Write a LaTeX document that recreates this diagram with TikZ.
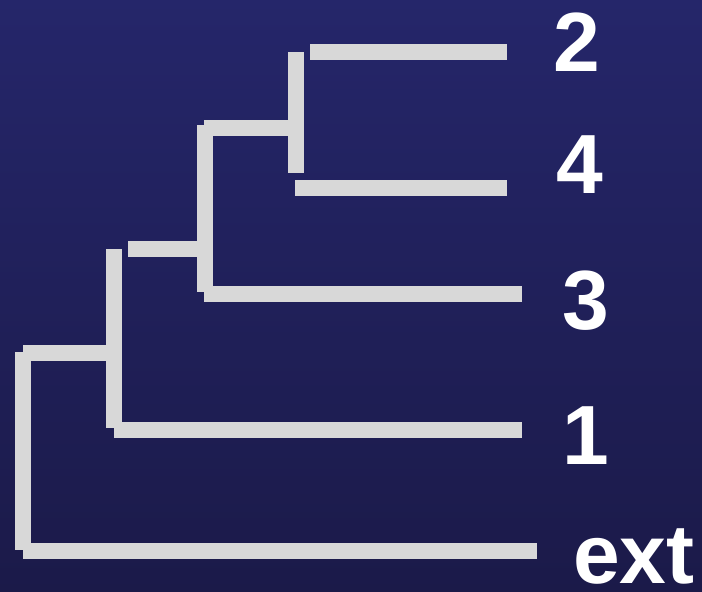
\documentclass[tikz,border=0pt]{standalone}
\usepackage{fontspec}
\setmainfont{Liberation Sans}
\usetikzlibrary{positioning}
\definecolor{bgtop}{RGB}{37,38,106}
\definecolor{bgbot}{RGB}{27,26,73}
\definecolor{bar}{RGB}{216,216,216}

\begin{document}
\begin{tikzpicture}[x=1pt, y=-1pt,
    branch/.style={line width=16pt, line cap=butt, draw=bar},
    taxon/.style={anchor=base west, inner sep=0pt, text=white, font=\fontsize{84}{84}\selectfont\bfseries}
]

% Background
\useasboundingbox (0,0) rectangle (702,592);
\shade[top color=bgtop, bottom color=bgbot] (0,0) rectangle (702,592);

% Leaves
\coordinate (s2)   at (310,52);  \coordinate (e2)   at (507,52);
\coordinate (s4)   at (295,188); \coordinate (e4)   at (507,188);
\coordinate (s3)   at (204,294); \coordinate (e3)   at (522,294);
\coordinate (s1)   at (114,430); \coordinate (e1)   at (522,430);
\coordinate (sext) at (23,551);  \coordinate (eext) at (537,551);

% Clades
\coordinate (top24)   at (296,52);  \coordinate (bot24)   at (296,173);
\coordinate (top243)  at (205,125); \coordinate (bot243)  at (205,292);
\coordinate (top2431) at (114,249); \coordinate (bot2431) at (114,428);
\coordinate (toproot) at (23,352);  \coordinate (botroot) at (23,550);

% Stems
\coordinate (st24)   at (204,128); \coordinate (en24)   at (288,128);
\coordinate (st243)  at (128,249); \coordinate (en243)  at (197,249);
\coordinate (st2431) at (23,353);  \coordinate (en2431) at (106,353);

% Branches
\draw[branch] (s2)   -- (e2);
\draw[branch] (s4)   -- (e4);
\draw[branch] (s3)   -- (e3);
\draw[branch] (s1)   -- (e1);
\draw[branch] (sext) -- (eext);
\draw[branch] (top24)   -- (bot24);
\draw[branch] (top243)  -- (bot243);
\draw[branch] (top2431) -- (bot2431);
\draw[branch] (toproot) -- (botroot);
\draw[branch] (st24)   -- (en24);
\draw[branch] (st243)  -- (en243);
\draw[branch] (st2431) -- (en2431);

% Labels
\node[taxon] (l2)   at (553,71)  {2};
\node[taxon] (l4)   at (556,193) {4};
\node[taxon] (l3)   at (562,329) {3};
\node[taxon] (l1)   at (562,464) {1};
\node[taxon] (lext) at (573,583) {ext};

\end{tikzpicture}
\end{document}
